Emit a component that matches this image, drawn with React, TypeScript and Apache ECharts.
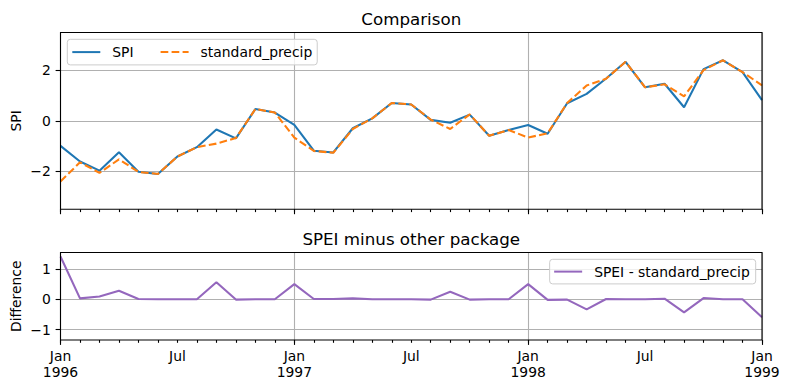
import React, { useEffect, useRef } from "react";
import * as echarts from "echarts";

const months = [
  "1996-01", "1996-02", "1996-03", "1996-04", "1996-05", "1996-06", "1996-07", "1996-08", "1996-09", "1996-10", "1996-11", "1996-12",
  "1997-01", "1997-02", "1997-03", "1997-04", "1997-05", "1997-06", "1997-07", "1997-08", "1997-09", "1997-10", "1997-11", "1997-12",
  "1998-01", "1998-02", "1998-03", "1998-04", "1998-05", "1998-06", "1998-07", "1998-08", "1998-09", "1998-10", "1998-11", "1998-12",
  "1999-01",
];

const spi = [
  -0.99, -1.61, -1.97, -1.24, -2.01, -2.1, -1.41, -1.04, -0.34, -0.69, 0.47, 0.33,
  -0.16, -1.18, -1.25, -0.29, 0.1, 0.71, 0.65, 0.04, -0.07, 0.25, -0.59, -0.36,
  -0.16, -0.51, 0.7, 1.07, 1.68, 2.34, 1.33, 1.47, 0.54, 2.05, 2.4, 1.93,
  0.82,
];

const standardPrecip = [
  -2.4, -1.64, -2.06, -1.52, -2.02, -2.1, -1.41, -1.04, -0.9, -0.68, 0.47, 0.33,
  -0.66, -1.19, -1.26, -0.32, 0.1, 0.71, 0.65, 0.05, -0.32, 0.26, -0.59, -0.36,
  -0.66, -0.49, 0.71, 1.4, 1.67, 2.34, 1.33, 1.45, 0.97, 2.01, 2.4, 1.93,
  1.41,
];

const difference = [
  1.41, 0.03, 0.09, 0.28, 0.01, 0, 0, 0, 0.56, -0.01, 0, 0,
  0.5, 0.01, 0.01, 0.03, 0, 0, 0, -0.01, 0.25, -0.01, 0, 0,
  0.5, -0.02, -0.01, -0.33, 0.01, 0, 0, 0.02, -0.43, 0.04, 0, 0,
  -0.59,
];

const topYTicks = [-2, 0, 2];
const bottomYTicks = [-1, 0, 1];
const monthNames = ["Jan", "Feb", "Mar", "Apr", "May", "Jun", "Jul", "Aug", "Sep", "Oct", "Nov", "Dec"];

const FONT = "DejaVu Sans, Verdana, sans-serif";
const FS = 13.9;
const LW = 2.08;
const GRID_COLOR = "#b0b0b0";

const L = 60.5;
const R = 762;
const T1 = 32.5;
const B1 = 209.3;
const T2 = 252.5;
const B2 = 340;

function fmtNum(v: number) {
  if (Math.abs(v - Math.round(v)) > 1e-6) return "";
  return String(Math.round(v)).replace("-", "\u2212");
}

function fmtMonth(value: string) {
  const [y, m] = value.split("-");
  const mi = parseInt(m, 10) - 1;
  if (mi === 0) return monthNames[mi] + "\n" + y;
  return monthNames[mi];
}

export default function App() {
  const ref = useRef<HTMLDivElement>(null);
  useEffect(() => {
    document.body.style.margin = "0";
    const chart = echarts.init(ref.current!, undefined, { renderer: "svg" });

    const minorX = (gridIndex: number, labels: boolean) => ({
      type: "category" as const,
      gridIndex,
      data: months,
      boundaryGap: false,
      position: "bottom" as const,
      axisLine: { show: false, onZero: false },
      axisTick: { show: true, interval: 0, length: 2.8, lineStyle: { color: "#000", width: 1.1 } },
      axisLabel: {
        show: labels,
        interval: (i: number) => i % 6 === 0,
        formatter: fmtMonth,
        color: "#000",
        fontFamily: FONT,
        fontSize: FS,
        lineHeight: 16,
        margin: 8,
      },
      splitLine: {
        show: true,
        interval: (i: number) => i % 12 === 0,
        lineStyle: { color: GRID_COLOR, width: 1.1 },
      },
    });
    const majorX = (gridIndex: number) => ({
      type: "category" as const,
      gridIndex,
      data: months,
      boundaryGap: false,
      position: "bottom" as const,
      axisLine: { show: false, onZero: false },
      axisTick: { show: true, interval: (i: number) => i % 12 === 0, length: 4.9, lineStyle: { color: "#000", width: 1.1 } },
      axisLabel: { show: false },
      splitLine: { show: false },
    });
    const yAx = (gridIndex: number, min: number, max: number, ticks: number[]) => ({
      type: "value" as const,
      gridIndex,
      min,
      max,
      splitNumber: 3,
      axisLine: { show: false, onZero: false },
      axisTick: { show: true, length: 4.9, customValues: ticks, lineStyle: { color: "#000", width: 1.1 } },
      axisLabel: {
        show: true,
        customValues: ticks,
        formatter: fmtNum,
        color: "#000",
        fontFamily: FONT,
        fontSize: FS,
        margin: 9.7,
      },
      splitLine: { show: true, lineStyle: { color: GRID_COLOR, width: 1.1 } },
    });

    const legendText = { color: "#000", fontFamily: FONT, fontSize: FS, padding: [0, 0, 0, 7] };
    const legendBase = {
      orient: "horizontal" as const,
      itemWidth: 28,
      itemHeight: 14,
      backgroundColor: "rgba(255,255,255,0.8)",
      borderColor: "#cccccc",
      borderWidth: 1,
      borderRadius: 3,
      textStyle: legendText,
      itemStyle: { opacity: 0 },
    };

    chart.setOption({
      animation: false,
      grid: [
        { left: L, top: T1, width: R - L, height: B1 - T1 },
        { left: L, top: T2, width: R - L, height: B2 - T2 },
      ],
      xAxis: [minorX(0, false), majorX(0), minorX(1, true), majorX(1)],
      yAxis: [yAx(0, -3.5, 3.5, topYTicks), yAx(1, -1.34, 1.54, bottomYTicks)],
      legend: [
        {
          ...legendBase,
          data: ["SPI", "standard_precip"],
          left: 67.3,
          top: 39.3,
          itemGap: 26,
          padding: [5.8, 5, 5.8, 4],
        },
        {
          ...legendBase,
          data: ["SPEI - standard_precip"],
          right: 789 - 755.7,
          top: 259.3,
          padding: [5.3, 6, 5.3, 3.5],
        },
      ],
      graphic: [
        {
          type: "text",
          x: (L + R) / 2,
          y: 19,
          style: { text: "Comparison", textAlign: "center", textVerticalAlign: "middle", fontFamily: FONT, fontSize: 16.7, fill: "#000" },
        },
        {
          type: "text",
          x: (L + R) / 2,
          y: 238.5,
          style: { text: "SPEI minus other package", textAlign: "center", textVerticalAlign: "middle", fontFamily: FONT, fontSize: 16.7, fill: "#000" },
        },
        {
          type: "text",
          x: 16,
          y: (T1 + B1) / 2,
          rotation: Math.PI / 2,
          style: { text: "SPI", textAlign: "center", textVerticalAlign: "middle", fontFamily: FONT, fontSize: FS, fill: "#000" },
        },
        {
          type: "text",
          x: 16,
          y: (T2 + B2) / 2,
          rotation: Math.PI / 2,
          style: { text: "Difference", textAlign: "center", textVerticalAlign: "middle", fontFamily: FONT, fontSize: FS, fill: "#000" },
        },
        {
          type: "rect",
          z: 100,
          shape: { x: L, y: T1, width: R - L, height: B1 - T1 },
          style: { fill: "none", stroke: "#000", lineWidth: 1.1 },
          silent: true,
        },
        {
          type: "rect",
          z: 100,
          shape: { x: L, y: T2, width: R - L, height: B2 - T2 },
          style: { fill: "none", stroke: "#000", lineWidth: 1.1 },
          silent: true,
        },
      ],
      series: [
        {
          name: "SPI",
          type: "line",
          xAxisIndex: 0,
          yAxisIndex: 0,
          data: spi,
          symbol: "none",
          lineStyle: { color: "#1f77b4", width: LW },
          itemStyle: { color: "#1f77b4" },
          z: 3,
        },
        {
          name: "standard_precip",
          type: "line",
          xAxisIndex: 0,
          yAxisIndex: 0,
          data: standardPrecip,
          symbol: "none",
          lineStyle: { color: "#ff7f0e", width: LW, type: [7.7, 3.3] },
          itemStyle: { color: "#ff7f0e" },
          z: 4,
        },
        {
          name: "SPEI - standard_precip",
          type: "line",
          xAxisIndex: 2,
          yAxisIndex: 1,
          data: difference,
          symbol: "none",
          lineStyle: { color: "#9467bd", width: LW },
          itemStyle: { color: "#9467bd" },
          z: 3,
        },
      ],
    });
    return () => chart.dispose();
  }, []);
  return <div ref={ref} style={{ width: 789, height: 390 }} />;
}
